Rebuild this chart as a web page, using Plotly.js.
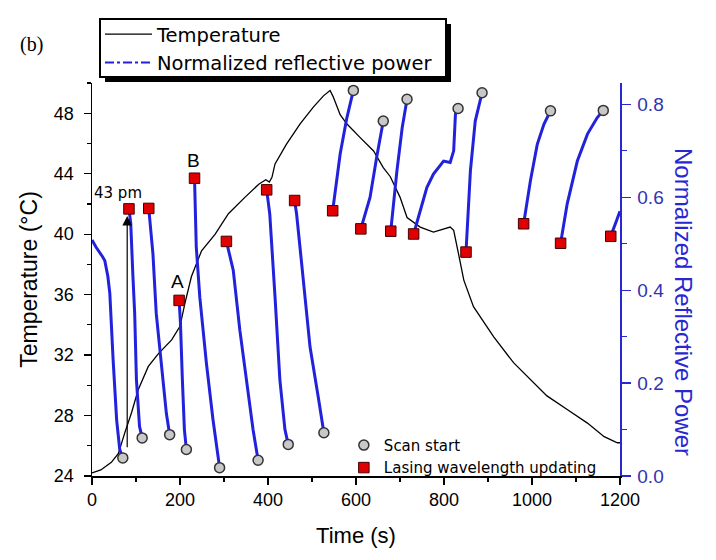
<!DOCTYPE html>
<html>
<head>
<meta charset="utf-8">
<script src="https://cdn.plot.ly/plotly-3.0.1.min.js"></script>
<style>html,body{margin:0;padding:0;background:#fff;}#chart{width:716px;height:560px;}</style>
</head>
<body>
<div id="chart"></div>
<script>
// Temperature curve (left axis, °C)
const tempTime = [0,20,44,60,75,90,105,128,151,181,200,211,226,249,280,310,348,379,395,403,409,416,442,473,503,526,541,548,564,579,609,640,662,678,700,716,746,776,814,822,833,845,867,898,913,958,989,1034,1080,1126,1164,1194,1200];
const tempValue = [24.2,24.4,24.9,25.5,26.9,28.2,29.7,31.25,32.1,33.0,33.9,35.4,37.2,38.9,40.0,41.35,42.45,43.3,43.6,43.45,43.76,44.65,45.96,47.3,48.4,49.15,49.5,49.1,47.9,47.3,46.4,45.5,44.4,43.8,42.45,41.1,40.47,40.14,40.47,40.25,38.7,36.96,35.2,33.9,33.2,31.5,30.6,29.3,28.4,27.5,26.6,26.2,26.2];

// Normalized reflective power scans (right axis), null separates scans
const powerTime = [
  0,9,24,29,36,40.5,48,56,63,70, null,
  84,88,93,97,101,108,114, null,
  129,138.5,146,161,169,176.5, null,
  198,201,205.4,210,214.5, null,
  233,237,245,260,275,290, null,
  305.5,321,336,351,366,377.5, null,
  397,404,416,427,438.5,446, null,
  460.5,465,476.5,495.5,514,527, null,
  547,556,564,579,594, null,
  611,620,632,647,662, null,
  679,686,693,705,716, null,
  731,746,761,776,799,814,822,826,832, null,
  850,855,860,871,886.5, null,
  981,996.5,1012,1027,1042, null,
  1065,1080,1103,1126,1148,1162, null,
  1179,1198,1200];
const powerValue = [
  0.508,0.493,0.472,0.464,0.43,0.393,0.25,0.121,0.057,0.039, null,
  0.575,0.545,0.43,0.35,0.207,0.107,0.082, null,
  0.576,0.478,0.35,0.207,0.135,0.089, null,
  0.378,0.33,0.207,0.1,0.057, null,
  0.641,0.493,0.385,0.243,0.121,0.018, null,
  0.505,0.443,0.314,0.207,0.1,0.034, null,
  0.616,0.564,0.385,0.207,0.1,0.068, null,
  0.593,0.564,0.457,0.278,0.171,0.093, null,
  0.571,0.63,0.693,0.77,0.83, null,
  0.532,0.56,0.6,0.686,0.764, null,
  0.527,0.6,0.657,0.75,0.811, null,
  0.521,0.571,0.621,0.65,0.678,0.675,0.7,0.779,0.791, null,
  0.482,0.57,0.657,0.764,0.825, null,
  0.543,0.636,0.714,0.757,0.786, null,
  0.501,0.586,0.678,0.736,0.771,0.787, null,
  0.516,0.564,0.57];

// Lasing wavelength updating points (red squares)
const lasingTime = [84,129,198,233,305.5,397,460.5,547,611,679,731,850,981,1065,1179];
const lasingValue = [0.575,0.576,0.378,0.641,0.505,0.616,0.593,0.571,0.532,0.527,0.521,0.482,0.543,0.501,0.516];

// Scan start points (grey circles)
const scanTime = [70,114,176.5,214.5,290,377.5,446,527,594,662,716,832,886.5,1042,1162];
const scanValue = [0.039,0.082,0.089,0.057,0.018,0.034,0.068,0.093,0.83,0.764,0.811,0.791,0.825,0.786,0.787];

// Tick labels
const xTicks = [0,200,400,600,800,1000,1200];
const yTicks = [24,28,32,36,40,44,48];
const y2Ticks = [0,0.2,0.4,0.6,0.8];
const y2TickText = ['0.0','0.2','0.4','0.6','0.8'];

// Annotation anchors (data)
const arrowTime = 80, arrowFrom = 25.8, arrowTo = 41.2;
const labelA = {t: 195, T: 36.85}, labelB = {t: 229.6, T: 44.85}, label43 = {t: 60, T: 42.7};

const BLUE = 'rgb(34,34,220)';
const AX_BLUE = 'rgb(40,40,210)';
const sans = 'Liberation Sans, Arial, sans-serif';
const dv = 'DejaVu Sans, sans-serif';

const traces = [
  {x: tempTime, y: tempValue, type: 'scatter', mode: 'lines', name: 'Temperature',
   line: {color: '#000', width: 1.3}, legend: 'legend'},
  {x: powerTime, y: powerValue, type: 'scatter', mode: 'lines', yaxis: 'y2',
   line: {color: BLUE, width: 3}, connectgaps: false, showlegend: false, hoverinfo: 'skip'},
  {x: [null], y: [null], type: 'scatter', mode: 'lines', yaxis: 'y2', name: 'Normalized reflective power',
   line: {color: BLUE, width: 2, dash: 'dashdot'}, legend: 'legend'},
  {x: scanTime, y: scanValue, type: 'scatter', mode: 'markers', yaxis: 'y2', name: 'Scan start',
   marker: {symbol: 'circle', size: 10, color: '#c8c8c8', line: {color: '#333', width: 1.5}}, legend: 'legend2'},
  {x: lasingTime, y: lasingValue, type: 'scatter', mode: 'markers', yaxis: 'y2', name: 'Lasing wavelength updating',
   marker: {symbol: 'square', size: 10.5, color: '#e00000', line: {color: '#400', width: 1}}, legend: 'legend2'}
];

const L = 92, R = 96, T = 83, B = 84, W = 716, H = 560;
const PW = W - L - R, PH = H - T - B;
const px2x = function (p) { return (p - L) / PW; };
const px2y = function (p) { return (H - B - p) / PH; };

const layout = {
  width: W, height: H,
  margin: {l: L, r: R, t: T, b: B},
  paper_bgcolor: '#fff', plot_bgcolor: '#fff',
  font: {family: sans, color: '#000'},
  showlegend: true,
  xaxis: {
    range: [0, 1200], tickvals: xTicks, ticks: 'outside', ticklen: 7, tickwidth: 1.2, tickcolor: '#000',
    minor: {dtick: 100, tick0: 0, ticks: 'outside', ticklen: 4, tickcolor: '#000', showgrid: false},
    showline: true, linecolor: '#000', linewidth: 1.5, showgrid: false, zeroline: false,
    tickfont: {family: sans, size: 18, color: '#000'},
    title: {text: 'Time (s)', font: {family: sans, size: 22}, standoff: 18}
  },
  yaxis: {
    range: [24, 50], tickvals: yTicks, ticks: 'outside', ticklen: 7, tickwidth: 1.2, tickcolor: '#000',
    minor: {dtick: 2, tick0: 24, ticks: 'outside', ticklen: 4, tickcolor: '#000', showgrid: false},
    showline: true, linecolor: '#000', linewidth: 1.5, showgrid: false, zeroline: false,
    tickfont: {family: sans, size: 18, color: '#000'}, ticklabelstandoff: 6,
    title: {text: 'Temperature (°C)', font: {family: sans, size: 23}, standoff: 10}
  },
  yaxis2: {
    overlaying: 'y', side: 'right', range: [0, 0.846],
    tickvals: y2Ticks, ticktext: y2TickText, ticks: 'outside', ticklen: 9, tickwidth: 1.2, tickcolor: AX_BLUE,
    minor: {dtick: 0.1, tick0: 0, ticks: 'outside', ticklen: 5, tickcolor: AX_BLUE, showgrid: false},
    showline: true, linecolor: AX_BLUE, linewidth: 1.5, showgrid: false, zeroline: false,
    tickfont: {family: sans, size: 19, color: 'rgb(50,50,180)'}, ticklabelstandoff: 3
  },
  legend: {
    x: px2x(100), y: px2y(15), xanchor: 'left', yanchor: 'top',
    bgcolor: 'rgba(0,0,0,0)', borderwidth: 0, itemwidth: 47,
    font: {family: dv, size: 19.5, color: '#000'}, tracegroupgap: 0
  },
  legend2: {
    x: 0.477, y: 0.12, xanchor: 'left', yanchor: 'top',
    bgcolor: 'rgba(0,0,0,0)', borderwidth: 0, itemwidth: 30,
    font: {family: dv, size: 15, color: '#000'}, tracegroupgap: 0
  },
  shapes: [
    // legend frame with drop shadow
    {type: 'rect', xref: 'paper', yref: 'paper', layer: 'above',
     x0: px2x(105), x1: px2x(451), y0: px2y(82), y1: px2y(24),
     fillcolor: '#000', line: {width: 0}},
    {type: 'rect', xref: 'paper', yref: 'paper', layer: 'above',
     x0: px2x(100), x1: px2x(446), y0: px2y(77), y1: px2y(19),
     fillcolor: '#fff', line: {color: '#000', width: 2}}
  ],
  annotations: [
    {xref: 'paper', yref: 'paper', x: px2x(31), y: px2y(45), xanchor: 'center', yanchor: 'middle',
     text: '(b)', showarrow: false, font: {family: 'Liberation Serif, serif', size: 20, color: '#000'}},
    {xref: 'paper', yref: 'paper', x: px2x(684), y: px2y(302), xanchor: 'center', yanchor: 'middle',
     text: 'Normalized Reflective Power', showarrow: false,
     textangle: 90, font: {family: sans, size: 24, color: AX_BLUE}},
    {x: arrowTime, y: arrowTo, ax: arrowTime, ay: arrowFrom, xref: 'x', yref: 'y', axref: 'x', ayref: 'y',
     text: '', showarrow: true, arrowhead: 2, arrowsize: 1.6, arrowwidth: 1.2, arrowcolor: '#000'},
    {x: label43.t, y: label43.T, xref: 'x', yref: 'y', text: '43 pm', showarrow: false,
     font: {family: dv, size: 15, color: '#000'}},
    {x: labelA.t, y: labelA.T, xref: 'x', yref: 'y', text: 'A', showarrow: false,
     font: {family: sans, size: 19, color: '#000'}},
    {x: labelB.t, y: labelB.T, xref: 'x', yref: 'y', text: 'B', showarrow: false,
     font: {family: sans, size: 19, color: '#000'}}
  ]
};

Plotly.newPlot('chart', traces, layout, {staticPlot: true, displayModeBar: false});
</script>
</body>
</html>
